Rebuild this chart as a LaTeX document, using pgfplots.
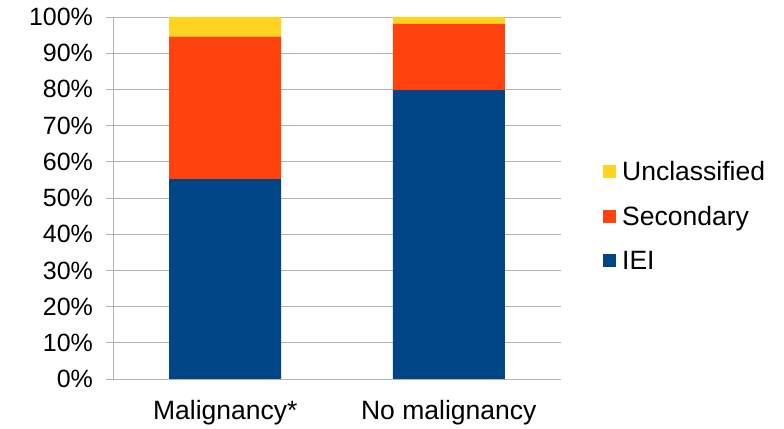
\documentclass[border=0pt]{standalone}
\usepackage{pgfplots}
\pgfplotsset{compat=1.18}
\usepackage{fontspec}
\setmainfont{Liberation Sans}
\definecolor{iei}{HTML}{004586}
\definecolor{sec}{HTML}{FF420E}
\definecolor{uncl}{HTML}{FFD320}
\definecolor{gridc}{HTML}{B3B3B3}
\begin{document}
\begin{tikzpicture}
\begin{axis}[
  at={(0,0)}, anchor=south west,
  width=447bp, height=362bp, scale only axis,
  ybar stacked, bar width=112bp,
  xmin=-0.5, xmax=1.5, ymin=0, ymax=100,
  xtick={0,1}, xticklabels={Malignancy*, No malignancy},
  major x tick style={draw=none},
  extra x ticks={-0.5,0.5,1.5}, extra x tick labels={},
  extra x tick style={major tick length=7bp, tick style={draw=gridc}, grid=none},
  ytick={0,10,...,100},
  yticklabel={\pgfmathprintnumber{\tick}\%},
  /pgf/number format/assume math mode=true,
  ymajorgrids, grid style={gridc, line width=0.8bp},
  axis x line*=bottom, axis y line*=left,
  axis line style={gridc, line width=0.8bp},
  tick align=outside, major tick length=7bp,
  y tick style={gridc, line width=0.8bp},
  x tick style={gridc, line width=0.8bp},
  yticklabel style={font=\fontsize{25bp}{29bp}\selectfont, text=black, xshift=-10bp},
  xticklabel style={font=\fontsize{26.5bp}{30bp}\selectfont, text=black, yshift=-11bp},
  legend style={draw=none, fill=none, at={(rel axis cs:1.095,0.45)}, anchor=west,
    font=\fontsize{26.5bp}{30bp}\selectfont, row sep=24bp, inner sep=0pt,
    nodes={inner xsep=6bp, inner ysep=0pt}},
  legend cell align=left,
  reverse legend,
  legend image code/.code={\fill[#1] (0bp,-6.5bp) rectangle (13bp,6.5bp);},
]
\addplot[fill=iei, draw=none] coordinates {(0,55.2) (1,79.8)};
\addplot[fill=sec, draw=none] coordinates {(0,39.4) (1,18.3)};
\addplot[fill=uncl, draw=none] coordinates {(0,5.4) (1,1.9)};
\legend{IEI, Secondary, Unclassified}
\end{axis}
\path[use as bounding box] (-113.5bp,-47bp) rectangle (670.5bp,379bp);
\end{tikzpicture}
\end{document}
